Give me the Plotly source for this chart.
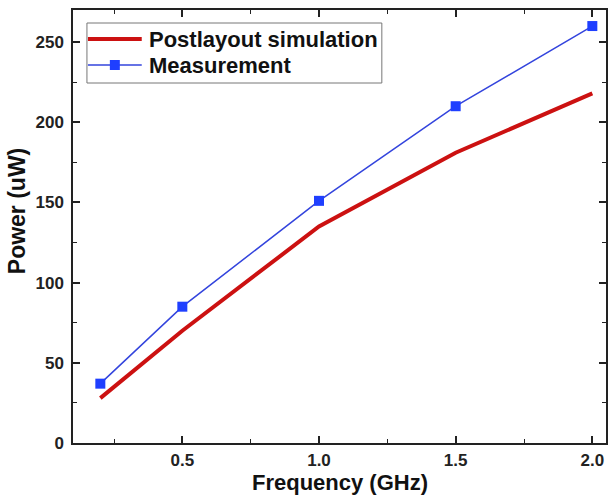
import plotly.graph_objects as go

freq = [0.2, 0.5, 1.0, 1.5, 2.0]
sim_power = [28, 70, 135, 181, 218]
meas_power = [37, 85, 151, 210, 260]

x_ticks = [0.5, 1.0, 1.5, 2.0]
x_ticklabels = ["0.5", "1.0", "1.5", "2.0"]
y_ticks = [0, 50, 100, 150, 200, 250]
y_ticklabels = ["0", "50", "100", "150", "200", "250"]

series_names = ["Postlayout simulation", "Measurement"]
RED = "#cc1111"
BLUE_LINE = "#3344dd"
BLUE_MARK = "#1f3fff"

FONT = "Liberation Sans, Arial, sans-serif"
fig = go.Figure()
fig.add_trace(go.Scatter(
    x=freq, y=sim_power, mode="lines", name=series_names[0],
    line=dict(color=RED, width=4), showlegend=False,
))
fig.add_trace(go.Scatter(
    x=freq, y=meas_power, mode="lines+markers", name=series_names[1],
    line=dict(color=BLUE_LINE, width=1.5),
    marker=dict(symbol="square", size=10, color=BLUE_MARK), showlegend=False,
))

axis_common = dict(
    showgrid=False, zeroline=False, showline=True, linecolor="#222", linewidth=1.5,
    mirror="ticks", ticks="inside", ticklen=7, tickwidth=1.5, tickcolor="#222",
    tickfont=dict(family=FONT, size=17, color="#222", weight="bold"),
)
fig.update_xaxes(
    **axis_common, range=[0.1, 2.05], tickvals=x_ticks, ticktext=x_ticklabels,
    minor=dict(dtick=0.25, ticks="inside", ticklen=4, tickcolor="#222", tickwidth=1.2),
    ticklabelstandoff=1,
)
fig.update_yaxes(
    **axis_common, range=[0, 270], tickvals=y_ticks, ticktext=y_ticklabels,
    minor=dict(dtick=25, ticks="inside", ticklen=4, tickcolor="#222", tickwidth=1.2),
    ticklabelstandoff=4,
)

# plot area in pixels: x 73..608, y 10..443
L, R, T, B = 73, 608, 10, 443
def px(xp):
    return (xp - L) / (R - L)
def py(yp):
    return (B - yp) / (B - T)

shapes = [
    dict(type="rect", xref="paper", yref="paper", x0=px(87), x1=px(383), y0=py(83), y1=py(23),
         line=dict(color="#777", width=1), fillcolor="white", layer="above"),
    dict(type="line", xref="paper", yref="paper", x0=px(88), x1=px(142), y0=py(39), y1=py(39),
         line=dict(color=RED, width=4), layer="above"),
    dict(type="line", xref="paper", yref="paper", x0=px(88), x1=px(142), y0=py(65), y1=py(65),
         line=dict(color=BLUE_LINE, width=1.5), layer="above"),
    dict(type="rect", xref="paper", yref="paper", x0=px(110), x1=px(120), y0=py(70), y1=py(60),
         line=dict(color=BLUE_MARK, width=0), fillcolor=BLUE_MARK, layer="above"),
]
annotations = [
    dict(text=series_names[0], xref="paper", yref="paper", x=px(147), y=py(39),
         xanchor="left", yanchor="middle", showarrow=False,
         font=dict(family=FONT, size=22, color="#111", weight="bold")),
    dict(text=series_names[1], xref="paper", yref="paper", x=px(147), y=py(65),
         xanchor="left", yanchor="middle", showarrow=False,
         font=dict(family=FONT, size=22, color="#111", weight="bold")),
    dict(text="Power (uW)", xref="paper", yref="paper", x=px(17), y=py(211),
         xanchor="center", yanchor="middle", textangle=-90, showarrow=False,
         font=dict(family=FONT, size=23, color="#111", weight="bold")),
    dict(text="Frequency (GHz)", xref="paper", yref="paper", x=px(341), y=py(497),
         xanchor="center", yanchor="bottom", showarrow=False,
         font=dict(family=FONT, size=22, color="#111", weight="bold")),
]

fig.update_layout(
    width=608, height=496,
    margin=dict(l=L, r=608 - R, t=T, b=496 - B),
    paper_bgcolor="white", plot_bgcolor="white",
    shapes=shapes, annotations=annotations,
    showlegend=False,
)
fig.write_html("out.html")
